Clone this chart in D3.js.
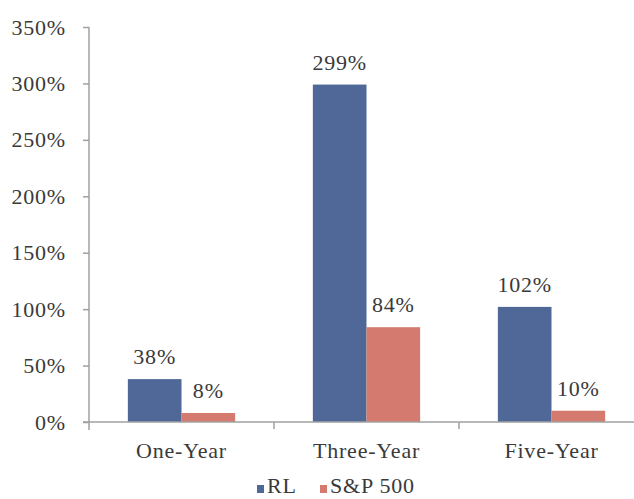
<!DOCTYPE html>
<html><head><meta charset="utf-8">
<script src="https://cdn.jsdelivr.net/npm/d3@7"></script>
<style>body{margin:0;background:#fff}svg{display:block}</style>
</head><body>
<script>
const categories = ["One-Year","Three-Year","Five-Year"];
const seriesNames = ["RL","S&P 500"];
const rlValues = [38,299,102];
const spValues = [8,84,10];
const yTicks = [0,50,100,150,200,250,300,350];
const colors = ["#4f6898","#d47a6e"];

const W=634,H=499;
const svg=d3.select("body").append("svg").attr("width",W).attr("height",H);
const font="'Liberation Serif','Times New Roman',serif";
const fs=22, ls="0.8px";
const x0=89, x1=644, yTop=27, yBot=422;
const x=d3.scaleBand().domain(categories).range([x0,x1]).paddingInner(0.42).paddingOuter(0.21);
const xs=d3.scaleBand().domain(seriesNames).range([0,x.bandwidth()]);
const y=d3.scaleLinear().domain([0,350]).range([yBot,yTop]);
const axisCol="#a0a0a0", textCol="#3a3a3a";

// bars
const data=[rlValues,spValues];
data.forEach((vals,si)=>{
  svg.append("g").selectAll("rect").data(categories).join("rect")
   .attr("x",c=>x(c)+xs(seriesNames[si])).attr("width",xs.bandwidth())
   .attr("y",(c,i)=>y(vals[i])).attr("height",(c,i)=>yBot-y(vals[i]))
   .attr("fill",colors[si]);
  svg.append("g").selectAll("text").data(categories).join("text")
   .attr("x",c=>x(c)+xs(seriesNames[si])+xs.bandwidth()/2)
   .attr("y",(c,i)=>y(vals[i])-15)
   .attr("text-anchor","middle").attr("font-family",font).attr("font-size",fs).attr("letter-spacing",ls).attr("fill",textCol)
   .text((c,i)=>vals[i]+"%");
});

// y axis
const ya=svg.append("g").attr("transform",`translate(${x0},0)`)
 .call(d3.axisLeft(y).tickValues(yTicks).tickFormat(d=>d+"%").tickSize(6).tickPadding(17));
ya.select(".domain").remove();
ya.selectAll("line").attr("stroke",axisCol).attr("stroke-width",1.5);
ya.selectAll("text").attr("font-family",font).attr("font-size",fs).attr("letter-spacing",ls).attr("fill",textCol);
svg.append("line").attr("x1",x0).attr("x2",x0).attr("y1",yTop).attr("y2",yBot+8).attr("stroke",axisCol).attr("stroke-width",1.5);

// x axis
svg.append("line").attr("x1",x0-6).attr("x2",W).attr("y1",yBot).attr("y2",yBot).attr("stroke",axisCol).attr("stroke-width",1.5);
const step=x.step();
svg.append("g").selectAll("line").data(categories.slice(1)).join("line")
 .attr("x1",c=>x(c)-x.paddingInner()*step/2).attr("x2",c=>x(c)-x.paddingInner()*step/2)
 .attr("y1",yBot).attr("y2",yBot+7).attr("stroke",axisCol).attr("stroke-width",1.5);
svg.append("g").selectAll("text").data(categories).join("text")
 .attr("x",c=>x(c)+x.bandwidth()/2).attr("y",458).attr("text-anchor","middle")
 .attr("font-family",font).attr("font-size",fs).attr("letter-spacing",ls).attr("fill",textCol).text(d=>d);

// legend
const leg=svg.append("g");
const legX=[257,320];
seriesNames.forEach((n,i)=>{
  leg.append("rect").attr("x",legX[i]).attr("y",485).attr("width",7).attr("height",8).attr("fill",colors[i]);
  leg.append("text").attr("x",legX[i]+10).attr("y",493).attr("font-family",font).attr("font-size",fs).attr("letter-spacing",ls).attr("fill",textCol).text(n);
});
</script>
</body></html>
